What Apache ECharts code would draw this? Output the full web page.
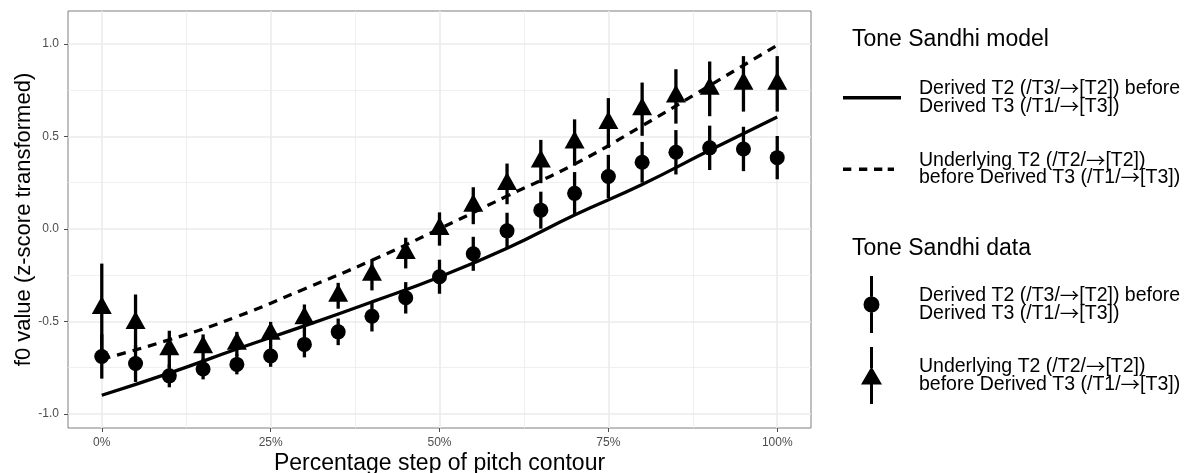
<!DOCTYPE html>
<html>
<head>
<meta charset="utf-8">
<script src="https://cdn.jsdelivr.net/npm/echarts@6/dist/echarts.min.js"></script>
<style>
html, body { margin: 0; padding: 0; background: #fff; overflow: hidden; }
#chart { width: 1191px; height: 473px; }
</style>
</head>
<body>
<div id="chart"></div>
<script>
var chart = echarts.init(document.getElementById("chart"), null, { width: 1191, height: 473 });

// steps along the pitch contour (%)
var steps = [0, 5, 10, 15, 20, 25, 30, 35, 40, 45, 50, 55, 60, 65, 70, 75, 80, 85, 90, 95, 100];
// observed means and error bar half widths
var derivedMean = [-0.69, -0.728, -0.795, -0.758, -0.733, -0.688, -0.625, -0.557, -0.473, -0.373, -0.259, -0.135, -0.011, 0.101, 0.192, 0.283, 0.36, 0.414, 0.438, 0.432, 0.385];
var derivedCI = [0.12, 0.10, 0.062, 0.056, 0.054, 0.058, 0.07, 0.072, 0.082, 0.085, 0.092, 0.092, 0.098, 0.10, 0.115, 0.117, 0.11, 0.12, 0.12, 0.12, 0.117];
var underlyingMean = [-0.428, -0.509, -0.651, -0.641, -0.622, -0.568, -0.484, -0.362, -0.248, -0.131, -0.001, 0.125, 0.243, 0.364, 0.467, 0.572, 0.647, 0.716, 0.757, 0.784, 0.784];
var underlyingCI = [0.24, 0.154, 0.10, 0.07, 0.065, 0.065, 0.075, 0.07, 0.085, 0.083, 0.09, 0.10, 0.11, 0.117, 0.125, 0.135, 0.144, 0.147, 0.148, 0.15, 0.15];
// model curves
var modelSteps = [0, 10, 20, 30, 40, 50, 60, 70, 80, 90, 100];
var derivedModel = [-0.90, -0.78, -0.65, -0.525, -0.395, -0.26, -0.105, 0.075, 0.24, 0.425, 0.605];
var underlyingModel = [-0.705, -0.60, -0.475, -0.325, -0.17, 0.0, 0.177, 0.35, 0.557, 0.775, 0.993];
// axis breaks
var xTicks = [0, 25, 50, 75, 100];
var xMinor = [12.5, 37.5, 62.5, 87.5];
var yTicks = [-1, -0.5, 0, 0.5, 1];
var yMinor = [-0.75, -0.25, 0.25, 0.75];

var labelDerived = "Derived T2 (/T3/\u2192[T2]) before\nDerived T3 (/T1/\u2192[T3])";
var labelUnderlying = "Underlying T2 (/T2/\u2192[T2])\nbefore Derived T3 (/T1/\u2192[T3])";
var labels = {
    modelDerived: labelDerived,
    modelUnderlying: labelUnderlying,
    dataDerived: labelDerived,
    dataUnderlying: labelUnderlying
};

var font = "Liberation Sans";

function pairs(xs, ys) {
    return xs.map(function (x, i) { return [x, ys[i]]; });
}
function ranges(mean, ci) {
    return steps.map(function (x, i) { return [x, mean[i] - ci[i], mean[i] + ci[i]]; });
}
function errorBar(params, api) {
    var a = api.coord([api.value(0), api.value(1)]);
    var b = api.coord([api.value(0), api.value(2)]);
    return {
        type: "line",
        shape: { x1: a[0], y1: a[1], x2: b[0], y2: b[1] },
        style: { stroke: "#000", lineWidth: 3.3 }
    };
}
// arrow drawn with a CJK font so it is long and thin
function legendText(name) {
    return labels[name].replace(/\u2192/g, "{a|\u2192}");
}

// grid lines (major thicker, minor thinner)
var gridLines = []
    .concat(xTicks.map(function (v) { return { xAxis: v, lineStyle: { width: 1.6 } }; }))
    .concat(yTicks.map(function (v) { return { yAxis: v, lineStyle: { width: 1.6 } }; }))
    .concat(xMinor.map(function (v) { return { xAxis: v, lineStyle: { width: 0.8 } }; }))
    .concat(yMinor.map(function (v) { return { yAxis: v, lineStyle: { width: 0.8 } }; }));

var solidIcon = "path://M0,0H58V3.3H0Z";
var dashedIcon = "path://M0,0H8.3V3.3H0Z M16,0H24.3V3.3H16Z M31,0H39.3V3.3H31Z M44.7,0H51V3.3H44.7Z M58,0Z";
var circleIcon = "path://M9,0H12V20.5H9Z M9,36.5H12V57H9Z M2.5,28.5A8,8 0 1,1 18.5,28.5A8,8 0 1,1 2.5,28.5Z";
var triangleIcon = "path://M9,0H12V21H9Z M9,37.5H12V57H9Z M0,37.5L10.5,19.5L21,37.5Z";

var legendTextStyle = {
    fontSize: 19.5,
    lineHeight: 17.5,
    color: "#000",
    rich: { a: { fontFamily: "Noto Sans CJK SC", fontSize: 19.5, lineHeight: 17.5, color: "#000" } }
};

var option = {
    animation: false,
    textStyle: { fontFamily: font },
    title: [
        { text: "Tone Sandhi model", left: 852, top: 28, padding: 0,
          textStyle: { fontSize: 23, fontWeight: "normal", color: "#000", fontFamily: font } },
        { text: "Tone Sandhi data", left: 852, top: 237, padding: 0,
          textStyle: { fontSize: 23, fontWeight: "normal", color: "#000", fontFamily: font } }
    ],
    legend: [
        {
            data: [{ name: "modelDerived", icon: solidIcon }, { name: "modelUnderlying", icon: dashedIcon }],
            orient: "vertical",
            left: 843,
            top: 79,
            padding: 0,
            itemWidth: 58,
            itemHeight: 3.3,
            itemGap: 34,
            selectedMode: false,
            formatter: legendText,
            textStyle: Object.assign({ padding: [0, 0, 0, 13] }, legendTextStyle)
        },
        {
            data: [{ name: "dataDerived", icon: circleIcon }, { name: "dataUnderlying", icon: triangleIcon }],
            orient: "vertical",
            left: 861,
            top: 276,
            padding: 0,
            itemWidth: 21,
            itemHeight: 57,
            itemGap: 14,
            selectedMode: false,
            formatter: legendText,
            textStyle: Object.assign({ padding: [0, 0, 0, 32] }, legendTextStyle)
        }
    ],
    grid: {
        left: 68, right: 380, top: 11, bottom: 45,
        outerBoundsMode: "none",
        containLabel: false,
        show: true, borderColor: "#7f7f7f", borderWidth: 1, backgroundColor: "#fff"
    },
    xAxis: {
        type: "value",
        min: -5,
        max: 105,
        name: "Percentage step of pitch contour",
        nameLocation: "middle",
        nameGap: 24,
        nameMoveOverlap: false,
        nameTextStyle: { fontSize: 23, color: "#000" },
        axisLine: { show: false, onZero: false },
        axisTick: { show: true, customValues: xTicks, length: 4, lineStyle: { color: "#4d4d4d" } },
        axisLabel: { customValues: xTicks, margin: 9, fontSize: 12, color: "#4d4d4d",
                     formatter: function (v) { return v + "%"; } },
        splitLine: { show: false }
    },
    yAxis: {
        type: "value",
        min: -1.077,
        max: 1.178,
        name: "f0 value (z-score transformed)",
        nameLocation: "middle",
        nameGap: 33.5,
        nameMoveOverlap: false,
        nameTextStyle: { fontSize: 22, color: "#000" },
        axisLine: { show: false, onZero: false },
        axisTick: { show: true, customValues: yTicks, length: 4, lineStyle: { color: "#4d4d4d" } },
        axisLabel: { customValues: yTicks, margin: 9, fontSize: 12, color: "#4d4d4d",
                     formatter: function (v) { return v.toFixed(1); } },
        splitLine: { show: false }
    },
    series: [
        {
            type: "line",
            name: "gridlines",
            data: [],
            z: 0,
            silent: true,
            markLine: {
                z: 1,
                silent: true,
                symbol: ["none", "none"],
                label: { show: false },
                lineStyle: { color: "#ebebeb", type: "solid" },
                emphasis: { disabled: true },
                data: gridLines
            }
        },
        {
            type: "line",
            name: "modelDerived",
            data: pairs(modelSteps, derivedModel),
            smooth: true,
            symbol: "none",
            lineStyle: { color: "#000", width: 3.3 },
            itemStyle: { color: "#000" },
            z: 3
        },
        {
            type: "line",
            name: "modelUnderlying",
            data: pairs(modelSteps, underlyingModel),
            smooth: true,
            symbol: "none",
            lineStyle: { color: "#000", width: 3.3, type: [9, 7] },
            itemStyle: { color: "#000" },
            z: 3
        },
        {
            type: "custom",
            name: "derivedBars",
            data: ranges(derivedMean, derivedCI),
            encode: { x: 0, y: [1, 2] },
            renderItem: errorBar,
            z: 4
        },
        {
            type: "custom",
            name: "underlyingBars",
            data: ranges(underlyingMean, underlyingCI),
            encode: { x: 0, y: [1, 2] },
            renderItem: errorBar,
            z: 4
        },
        {
            type: "scatter",
            name: "dataDerived",
            data: pairs(steps, derivedMean),
            symbol: "circle",
            symbolSize: 15,
            itemStyle: { color: "#000", opacity: 1 },
            z: 5
        },
        {
            type: "scatter",
            name: "dataUnderlying",
            data: pairs(steps, underlyingMean),
            symbol: "triangle",
            symbolSize: [20, 18],
            symbolOffset: [0, -3],
            itemStyle: { color: "#000", opacity: 1 },
            z: 5
        }
    ]
};

chart.setOption(option);
</script>
</body>
</html>
